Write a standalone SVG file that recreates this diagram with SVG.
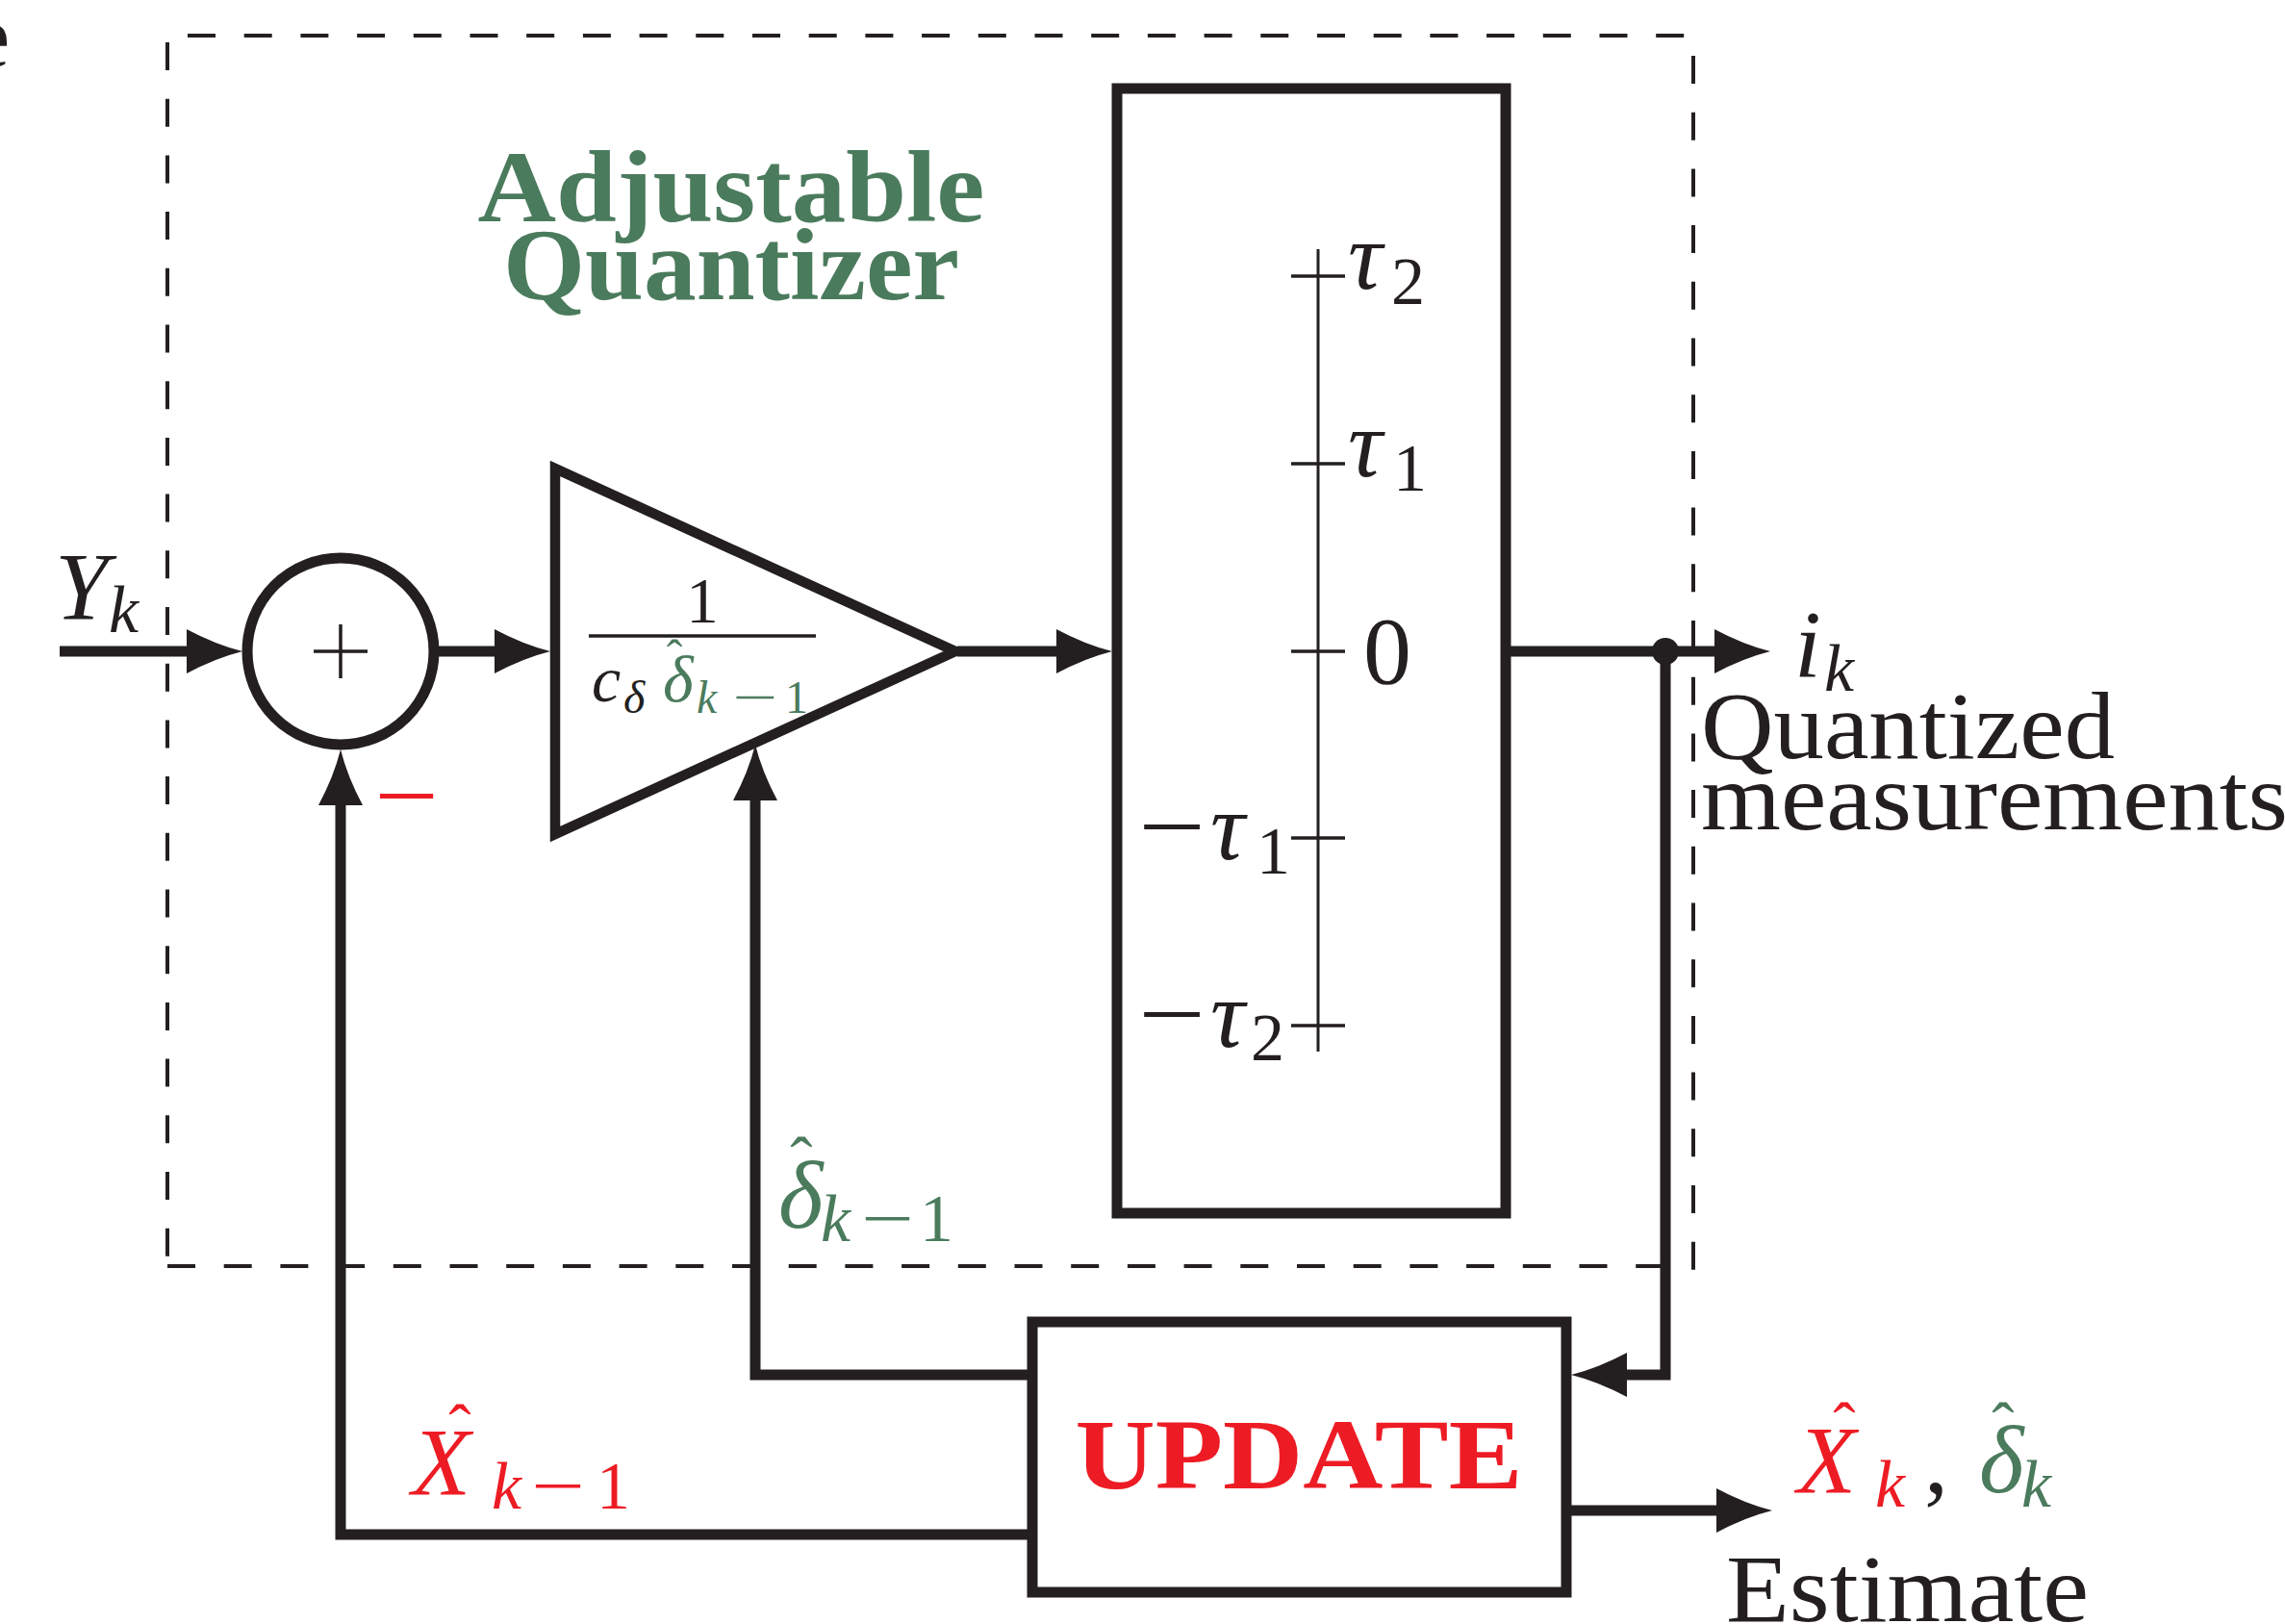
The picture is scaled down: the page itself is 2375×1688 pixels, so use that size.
<svg xmlns="http://www.w3.org/2000/svg" width="2375" height="1688" viewBox="0 0 2375 1688">
<style>
.ln{fill:none;stroke:#231f20;stroke-width:11;stroke-linejoin:miter;stroke-linecap:butt}
.thin{fill:none;stroke:#231f20;stroke-width:3.5}
.dash{fill:none;stroke:#231f20;stroke-width:4;stroke-dasharray:29 29.7}
.ah{fill:#231f20}
.m{font-family:"Liberation Serif","DejaVu Serif",serif;font-style:italic}
.r{font-family:"Liberation Serif","DejaVu Serif",serif}
.bk{fill:#231f20}.gr{fill:#4b7b5d}.rd{fill:#ed1c24}
.b{font-weight:bold}
</style>
<defs>
<path id="arr" d="M0,0 Q-28,-7 -58,-23 L-58,23 Q-28,7 0,0 Z"/>
</defs>
<rect width="2375" height="1688" fill="#ffffff"/>
<text class="r bk" x="-31" y="69" font-size="93">e</text>
<g id="adjustable-quantizer-frame">
<line class="dash" x1="195" y1="37" x2="1760" y2="37"/>
<line class="dash" x1="174" y1="44" x2="174" y2="1316"/>
<line class="dash" x1="1760" y1="58" x2="1760" y2="1320"/>
<line class="dash" x1="174" y1="1316" x2="1731" y2="1316"/>
<text class="r gr b" x="760" y="230" font-size="106" text-anchor="middle" textLength="527" lengthAdjust="spacingAndGlyphs">Adjustable</text>
<text class="r gr b" x="760" y="311" font-size="106" text-anchor="middle" textLength="474" lengthAdjust="spacingAndGlyphs">Quantizer</text>
</g>
<g id="connectors">
<path class="ln" d="M62,677 H210"/>
<use href="#arr" class="ah" transform="translate(252,677)"/>
<path class="ln" d="M456,677 H530"/>
<use href="#arr" class="ah" transform="translate(572,677)"/>
<path class="ln" d="M995,677 H1110"/>
<use href="#arr" class="ah" transform="translate(1156,677)"/>
<path class="ln" d="M1565,677 H1800"/>
<use href="#arr" class="ah" transform="translate(1840,677)"/>
<circle cx="1731" cy="677" r="14" class="ah"/>
<path class="ln" d="M1731,677 V1429 H1680"/>
<use href="#arr" class="ah" transform="translate(1633,1429) rotate(180)"/>
<path class="ln" d="M1628,1570 H1800"/>
<use href="#arr" class="ah" transform="translate(1842,1570)"/>
<path class="ln" d="M1073,1429 H785 V820"/>
<use href="#arr" class="ah" transform="translate(785,774) rotate(-90)"/>
<path class="ln" d="M1073,1595 H354 V825"/>
<use href="#arr" class="ah" transform="translate(354,779) rotate(-90)"/>
</g>
<g id="sum">
<circle cx="354" cy="677" r="97" fill="#ffffff" stroke="#231f20" stroke-width="11"/>
<line class="thin" x1="326" y1="677" x2="382" y2="677"/>
<line class="thin" x1="354" y1="649" x2="354" y2="705"/>
<text class="r rd" x="389" y="861" font-size="100" textLength="67" lengthAdjust="spacingAndGlyphs">−</text>
</g>
<g id="gain">
<polygon points="577,487 577,867 993,677" fill="#ffffff" stroke="#231f20" stroke-width="10.5" stroke-linejoin="miter"/>
<text class="r bk" x="730" y="647" font-size="67" text-anchor="middle">1</text>
<line x1="612" y1="661" x2="848" y2="661" stroke="#231f20" stroke-width="3.5"/>
<text class="m bk" x="615" y="729" font-size="68">c</text>
<text class="m bk" x="648" y="741" font-size="48">δ</text>
<text class="m gr" x="689" y="729" font-size="68">δ</text>
<text class="r gr" x="701" y="700" font-size="50" text-anchor="middle">ˆ</text>
<text class="m gr" x="724" y="741" font-size="48">k</text>
<text class="r gr" x="761" y="741" font-size="48" textLength="47" lengthAdjust="spacingAndGlyphs">−</text>
<text class="r gr" x="816" y="741" font-size="48">1</text>
</g>
<g id="quantizer">
<rect x="1161" y="92" width="404" height="1169" fill="#ffffff" stroke="#231f20" stroke-width="11"/>
<line x1="1370" y1="259" x2="1370" y2="1093" stroke="#231f20" stroke-width="3"/>
<line class="thin" x1="1342" y1="287" x2="1398" y2="287"/>
<line class="thin" x1="1342" y1="482" x2="1398" y2="482"/>
<line class="thin" x1="1342" y1="677" x2="1398" y2="677"/>
<line class="thin" x1="1342" y1="871" x2="1398" y2="871"/>
<line class="thin" x1="1342" y1="1066" x2="1398" y2="1066"/>
<text class="m bk" x="1401" y="300" font-size="100">τ</text>
<text class="r bk" x="1446" y="316" font-size="70">2</text>
<text class="m bk" x="1401" y="495" font-size="100">τ</text>
<text class="r bk" x="1448" y="510" font-size="70">1</text>
<text class="r bk" x="1442" y="710" font-size="100" text-anchor="middle">0</text>
<text class="r bk" x="1183" y="893" font-size="100" textLength="70" lengthAdjust="spacingAndGlyphs">−</text>
<text class="m bk" x="1258" y="893" font-size="100">τ</text>
<text class="r bk" x="1306" y="908" font-size="70">1</text>
<text class="r bk" x="1183" y="1088" font-size="100" textLength="70" lengthAdjust="spacingAndGlyphs">−</text>
<text class="m bk" x="1258" y="1088" font-size="100">τ</text>
<text class="r bk" x="1300" y="1102" font-size="70">2</text>
</g>
<g id="update">
<rect x="1073" y="1374" width="555" height="281" fill="#ffffff" stroke="#231f20" stroke-width="11"/>
<text class="r rd b" x="1350" y="1547" font-size="104" text-anchor="middle" textLength="465" lengthAdjust="spacingAndGlyphs">UPDATE</text>
</g>
<g id="labels">
<text class="m bk" x="57" y="643" font-size="100">Y</text>
<text class="m bk" x="113" y="657" font-size="70">k</text>
<text class="m bk" x="1865" y="703" font-size="100">i</text>
<text class="m bk" x="1896" y="718" font-size="70">k</text>
<text class="r bk" x="1768" y="788" font-size="100" textLength="430" lengthAdjust="spacingAndGlyphs">Quantized</text>
<text class="r bk" x="1768" y="862" font-size="100" textLength="610" lengthAdjust="spacingAndGlyphs">measurements</text>
<text class="m gr" x="809" y="1276" font-size="100">δ</text>
<text class="r gr" x="833" y="1230" font-size="70" text-anchor="middle">ˆ</text>
<text class="m gr" x="853" y="1290" font-size="70">k</text>
<text class="r gr" x="895" y="1290" font-size="70" textLength="55" lengthAdjust="spacingAndGlyphs">−</text>
<text class="r gr" x="956" y="1290" font-size="70">1</text>
<text class="m rd" x="428" y="1553" font-size="100">X</text>
<text class="r rd" x="478" y="1508" font-size="70" text-anchor="middle">ˆ</text>
<text class="m rd" x="511" y="1568" font-size="70">k</text>
<text class="r rd" x="552" y="1568" font-size="70" textLength="56" lengthAdjust="spacingAndGlyphs">−</text>
<text class="r rd" x="620" y="1568" font-size="70">1</text>
<text class="m rd" x="1868" y="1551" font-size="100">X</text>
<text class="r rd" x="1917" y="1506" font-size="70" text-anchor="middle">ˆ</text>
<text class="m rd" x="1949" y="1566" font-size="70">k</text>
<text class="r bk" x="2000" y="1551" font-size="100">,</text>
<text class="m gr" x="2057" y="1551" font-size="100">δ</text>
<text class="r gr" x="2082" y="1506" font-size="70" text-anchor="middle">ˆ</text>
<text class="m gr" x="2101" y="1566" font-size="70">k</text>
<text class="r bk" x="1794" y="1685" font-size="100" textLength="377" lengthAdjust="spacingAndGlyphs">Estimate</text>
</g>
</svg>
